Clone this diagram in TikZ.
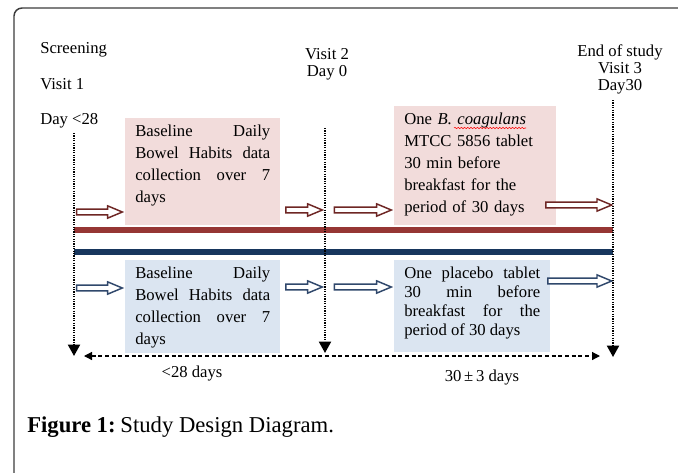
\documentclass[tikz,border=0pt]{standalone}
\usepackage{fontspec}
\setmainfont{Liberation Serif}
\usetikzlibrary{arrows.meta, positioning, calc, decorations.pathmorphing}

\definecolor{pinkfill}{RGB}{242,220,219}
\definecolor{bluefill}{RGB}{219,229,241}
\definecolor{barred}{RGB}{150,54,52}
\definecolor{barblue}{RGB}{23,54,93}
\definecolor{arrred}{RGB}{110,38,36}
\definecolor{arrblue}{RGB}{48,72,108}
\definecolor{framegray}{RGB}{60,60,60}

\begin{document}
\begin{tikzpicture}[x=0.75pt, y=-0.75pt,
    txt/.style={font=\fontsize{12.5}{15}\selectfont, inner sep=0pt},
    infobox/.style={anchor=north west, inner xsep=7.5pt, inner ysep=5pt,
        font=\fontsize{12.5}{16.5}\selectfont},
    timeline/.style={line width=1.4pt, dash pattern=on 0.9pt off 0.9pt,
        -{Triangle[width=9pt, length=8.5pt]}},
    hollowR/.style={draw=arrred, fill=white, line width=1.1pt,
        to path={let \p1=(\tikztostart), \p2=(\tikztotarget) in
            (\x1,\y1+2.1pt) -- (\x2-11pt,\y1+2.1pt) -- (\x2-11pt,\y1+4.6pt) -- (\x2,\y1)
            -- (\x2-11pt,\y1-4.6pt) -- (\x2-11pt,\y1-2.1pt) -- (\x1,\y1-2.1pt) -- cycle}},
    hollowB/.style={hollowR, draw=arrblue},
    span/.style={line width=0.9pt, dash pattern=on 3pt off 2pt,
        {Triangle[width=6pt, length=6pt]}-{Triangle[width=6pt, length=6pt]}}]
    \useasboundingbox (0,0) rectangle (678,472);

    % frame
    \draw[framegray, line width=1.1pt, rounded corners=6pt] (14,500) -- (14,8) -- (700,8);

    % visit labels
    \node[txt, anchor=base west] (screen) at (40,53) {Screening};
    \node[txt, anchor=base west] (visit1) at (40,89) {Visit 1};
    \node[txt, anchor=base west] (day1) at (40,124) {Day <28};
    \node[txt, align=center, anchor=north, font=\fontsize{12.5}{12.75}\selectfont]
        (visit2) at (327,48) {Visit 2\\Day 0};
    \node[txt, align=center, anchor=north, font=\fontsize{12.5}{12.75}\selectfont]
        (visit3) at (620,44) {End of study\\Visit 3\\Day30};

    \coordinate (v1top) at (74,133);  \coordinate (v1bot) at (74,356);
    \coordinate (v2top) at (325,128); \coordinate (v2bot) at (325,353);
    \coordinate (v3top) at (613,100); \coordinate (v3bot) at (613,357);

    % probiotic arm
    \node[infobox, fill=pinkfill, text width=101.25pt, align=justify, text depth=61pt]
        (pinkA) at (125,118) {Baseline Daily\linebreak Bowel Habits data\linebreak
        collection over 7\linebreak days};
    \node[infobox, fill=pinkfill, text width=106.5pt, align=left, text depth=70pt]
        (pinkB) at (394,106) {One \textit{B. coagulans}\\MTCC 5856 tablet\\
        30 min before\\breakfast for the\\period of 30 days};
    \draw[red, line width=0.4pt, decorate,
        decoration={snake, amplitude=0.5pt, segment length=2.4pt}]
        ([shift={(60,22)}]pinkB.north west) -- ([shift={(132,22)}]pinkB.north west);

    % placebo arm
    \node[infobox, fill=bluefill, text width=101.25pt, align=justify, text depth=50.5pt]
        (blueA) at (125,260) {Baseline Daily\linebreak Bowel Habits data\linebreak
        collection over 7\linebreak days};
    \node[infobox, fill=bluefill, text width=102pt, align=justify, text depth=49.75pt,
        font=\fontsize{12.5}{14.25}\selectfont]
        (blueB) at (394,260) {One placebo tablet\linebreak 30 min before\linebreak
        breakfast for the\linebreak period of 30 days};

    % arm bars
    \draw[barred, line width=4.5pt] (v1top |- 0,230) -- (v3top |- 0,230);
    \draw[barblue, line width=4.5pt] (v1top |- 0,252) -- (v3top |- 0,252);

    % hollow arrows
    \draw[hollowR] ([xshift=2]v1top |- 0,212) to ([xshift=-2]pinkA.west |- 0,212);
    \draw[hollowR] ([xshift=4]pinkA.east |- 0,210) to ([xshift=-2]v2top |- 0,210);
    \draw[hollowR] ([xshift=7]v2top |- 0,210) to ([xshift=-2]pinkB.west |- 0,210);
    \draw[hollowR] ([xshift=-8]pinkB.east |- 0,205) to ([xshift=-1]v3top |- 0,205);
    \draw[hollowB] ([xshift=2]v1top |- 0,288) to ([xshift=-2]blueA.west |- 0,288);
    \draw[hollowB] ([xshift=4]blueA.east |- 0,287) to ([xshift=-2]v2top |- 0,287);
    \draw[hollowB] ([xshift=7]v2top |- 0,287) to ([xshift=-2]blueB.west |- 0,287);
    \draw[hollowB] ([xshift=-2]blueB.east |- 0,281) to ([xshift=-1]v3top |- 0,281);

    % visit lines
    \draw[timeline] (v1top) -- (v1bot);
    \draw[timeline] (v2top) -- (v2bot);
    \draw[timeline] (v3top) -- (v3bot);

    % durations
    \coordinate (spanL) at (84,356);
    \coordinate (spanR) at (600,356);
    \draw[span] (spanL) -- (spanR);
    \node[txt] (gap1) at (192,374) {<28 days};
    \node[txt] (gap2) at (482,378) {30\,±\,3 days};

    \node[anchor=base west, inner sep=0pt, font=\fontsize{17}{20}\selectfont]
        (caption) at (27,432) {\textbf{Figure 1:}\hspace{-2pt} Study Design Diagram.};
\end{tikzpicture}
\end{document}
